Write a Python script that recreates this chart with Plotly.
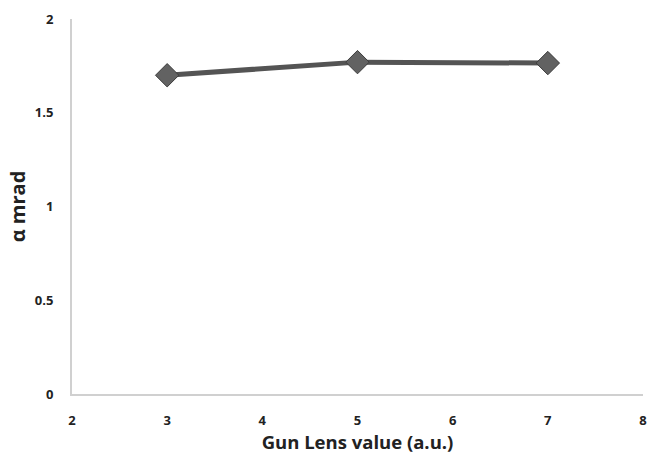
import plotly.graph_objects as go

x_vals = [3, 5, 7]
alpha_mrad = [1.70, 1.77, 1.765]
x_ticks = [2, 3, 4, 5, 6, 7, 8]
y_ticks = [0, 0.5, 1, 1.5, 2]
y_tick_text = ["0", "0.5", "1", "1.5", "2"]

fig = go.Figure()
fig.add_trace(go.Scatter(
    x=x_vals, y=alpha_mrad, mode="lines+markers",
    line=dict(color="#545454", width=5),
    marker=dict(symbol="diamond", size=18, color="#626262",
                line=dict(color="#3c3c3c", width=1)),
    showlegend=False, cliponaxis=False,
))

fam = "Open Sans, Liberation Sans, sans-serif"
font_tick = dict(family=fam, size=13, color="#222222", weight="bold")
fig.update_layout(
    width=647, height=454,
    margin=dict(l=72, r=0, t=19, b=60),
    paper_bgcolor="white", plot_bgcolor="white",
    xaxis=dict(range=[2, 8], tickvals=x_ticks, showgrid=False, zeroline=False,
               showline=True, linecolor="#d0d0d0", linewidth=2, ticks="",
               tickfont=font_tick, ticklabelstandoff=13, ticklabeloverflow="allow",
               title=dict(text="Gun Lens value (a.u.)", standoff=10,
                          font=dict(family=fam, size=18.5, color="#222222", weight="bold"))),
    yaxis=dict(range=[0, 2], tickvals=y_ticks, ticktext=y_tick_text, showgrid=False, zeroline=False,
               showline=True, linecolor="#d0d0d0", linewidth=2, ticks="",
               tickfont=font_tick, ticklabelstandoff=14, ticklabeloverflow="allow",
               title=dict(text="α mrad", standoff=4,
                          font=dict(family=fam, size=20, color="#222222", weight="bold"))),
)
fig.write_html("out.html")
